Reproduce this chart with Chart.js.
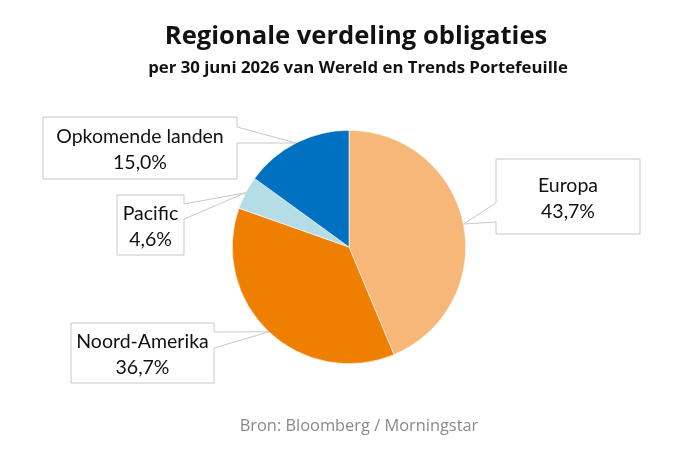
<!DOCTYPE html>
<html>
<head>
<meta charset="utf-8">
<script src="https://cdn.jsdelivr.net/npm/chart.js@4"></script>
<style>
  html, body { margin: 0; padding: 0; background: #ffffff; }
  #wrap { width: 700px; height: 450px; position: relative; }
</style>
</head>
<body>
<div id="wrap"><canvas id="c" width="700" height="450"></canvas></div>
<script>
// ---- Data ----
const categories = ['Europa', 'Noord-Amerika', 'Pacific', 'Opkomende landen'];
const values = [43.7, 36.7, 4.6, 15.0];
const valueLabels = ['43,7%', '36,7%', '4,6%', '15,0%'];
const sliceColors = ['#F7B779', '#EE7F00', '#B4DDE8', '#0070C0'];

const titleText = 'Regionale verdeling obligaties';
const subtitleText = 'per 30 juni 2026 van Wereld en Trends Portefeuille';
const sourceText = 'Bron: Bloomberg / Morningstar';

// ---- Layout (callout boxes: x, y, w, h, side of pointer, pointer base offsets) ----
const calloutBoxes = [
  { x: 496, y: 159, w: 144, h: 75, side: 'left',  b1: 44, b2: 63 },
  { x: 71,  y: 323, w: 143, h: 60, side: 'right', b1: 9,  b2: 25 },
  { x: 117, y: 195, w: 67,  h: 60, side: 'right', b1: 9,  b2: 24 },
  { x: 43,  y: 117, w: 194, h: 62, side: 'right', b1: 10, b2: 26 }
];

const overlay = {
  id: 'overlay',
  afterDraw(chart) {
    const ctx = chart.ctx;
    ctx.save();
    // Title
    ctx.fillStyle = '#111111';
    ctx.textAlign = 'center';
    ctx.textBaseline = 'alphabetic';
    ctx.font = 'bold 25.6px "Open Sans", sans-serif';
    ctx.fillText(titleText, 356, 44);
    ctx.font = 'bold 16.8px "Open Sans", sans-serif';
    ctx.fillText(subtitleText, 358, 73);
    // Source
    ctx.fillStyle = '#8a8a8a';
    ctx.font = '16.4px "Open Sans", sans-serif';
    ctx.fillText(sourceText, 359, 431);

    // Callouts
    const meta = chart.getDatasetMeta(0);
    meta.data.forEach((arc, i) => {
      const b = calloutBoxes[i];
      const mid = (arc.startAngle + arc.endAngle) / 2;
      const tx = arc.x + Math.cos(mid) * arc.outerRadius;
      const ty = arc.y + Math.sin(mid) * arc.outerRadius;
      ctx.beginPath();
      if (b.side === 'left') {
        ctx.moveTo(b.x, b.y);
        ctx.lineTo(b.x + b.w, b.y);
        ctx.lineTo(b.x + b.w, b.y + b.h);
        ctx.lineTo(b.x, b.y + b.h);
        ctx.lineTo(b.x, b.y + b.b2);
        ctx.lineTo(tx, ty);
        ctx.lineTo(b.x, b.y + b.b1);
        ctx.closePath();
      } else {
        ctx.moveTo(b.x, b.y);
        ctx.lineTo(b.x + b.w, b.y);
        ctx.lineTo(b.x + b.w, b.y + b.b1);
        ctx.lineTo(tx, ty);
        ctx.lineTo(b.x + b.w, b.y + b.b2);
        ctx.lineTo(b.x + b.w, b.y + b.h);
        ctx.lineTo(b.x, b.y + b.h);
        ctx.closePath();
      }
      ctx.fillStyle = '#ffffff';
      ctx.fill();
      ctx.strokeStyle = '#c8c8c8';
      ctx.lineWidth = 1;
      ctx.stroke();
      ctx.fillStyle = '#111111';
      ctx.font = '19.5px Lato, sans-serif';
      ctx.textAlign = 'center';
      const cx = b.x + b.w / 2;
      const cy = b.y + b.h / 2;
      ctx.fillText(categories[i], cx, cy - 5);
      ctx.fillText(valueLabels[i], cx, cy + 21);
    });
    ctx.restore();
  }
};

new Chart(document.getElementById('c'), {
  type: 'pie',
  data: {
    labels: categories,
    datasets: [{
      data: values,
      backgroundColor: sliceColors,
      borderColor: '#ffffff',
      borderWidth: 0.6
    }]
  },
  options: {
    responsive: false,
    animation: false,
    rotation: 0,
    layout: { padding: { top: 130, bottom: 86, left: 232, right: 234 } },
    plugins: {
      legend: { display: false },
      tooltip: { enabled: false },
      title: { display: false }
    }
  },
  plugins: [overlay]
});
</script>
</body>
</html>
